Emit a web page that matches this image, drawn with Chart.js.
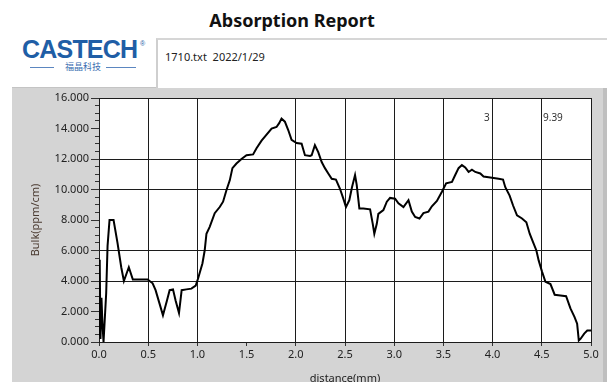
<!DOCTYPE html>
<html>
<head>
<meta charset="utf-8">
<title>Absorption Report</title>
<script src="https://cdn.jsdelivr.net/npm/chart.js@4/dist/chart.umd.min.js"></script>
<style>
  html, body { margin: 0; padding: 0; background: #fff; }
  #page { position: relative; width: 607px; height: 382px; overflow: hidden; background: #fff; font-family: "Noto Sans", sans-serif; }
  #panel { position: absolute; left: 12px; top: 87px; width: 591px; height: 295px; background: #d4d4d4; border-top: 1px solid #c4c4c4; }
  #edge { position: absolute; left: 603px; top: 87px; width: 4px; height: 296px; background: #bfbfbf; }
  #title { position: absolute; left: 0; width: 584px; top: 8px; text-align: center; font-weight: bold; font-size: 18px; line-height: 24px; color: #111; }
  #logo { position: absolute; left: 22px; top: 37px; font-family: "Liberation Sans", Arial, sans-serif; font-weight: bold; font-size: 25px; line-height: 25px; letter-spacing: -0.8px; color: #1f5ea6; }
  #reg { position: absolute; left: 140px; top: 40px; font-family: "Liberation Sans", sans-serif; font-size: 7px; color: #1f5ea6; }
  #sub { position: absolute; left: 30px; top: 60px; width: 106px; height: 14px; font-family: "Noto Sans CJK SC", sans-serif; font-size: 9px; line-height: 14px; color: #3a6db0; text-align: center; }
  #sub .ln { position: absolute; top: 7px; height: 1px; background: #5b86c0; }
  #box { position: absolute; left: 156px; top: 38px; width: 460px; height: 48px; background: #fff; border-left: 2px solid #cfcfcf; border-top: 2px solid #d6d6d6; }
  #file { position: absolute; left: 165px; top: 49px; font-size: 11px; line-height: 16px; color: #222; }
  #chart { position: absolute; left: 0; top: 0; }
  .mark { position: absolute; top: 110px; font-size: 10px; line-height: 14px; color: #333; }
</style>
</head>
<body>
<div id="page">
  <div id="panel"></div>
  <div id="edge"></div>
  <div id="title">Absorption Report</div>
  <div id="logo">CASTECH</div>
  <div id="reg">®</div>
  <div id="sub"><span class="ln" style="left:0;width:24px"></span>福晶科技<span class="ln" style="right:0;width:30px"></span></div>
  <div id="box"></div>
  <div id="file">1710.txt&nbsp; 2022/1/29</div>
  <canvas id="chart" width="607" height="382"></canvas>
  <div class="mark" style="left:484px">3</div>
  <div class="mark" style="left:543px">9.39</div>
</div>
<script>
// Bulk absorption profile along the crystal
const distance = [
  0.000, 0.005, 0.010, 0.015, 0.025, 0.035, 0.046, 0.073, 0.087, 0.107,
  0.148, 0.188, 0.226, 0.253, 0.303, 0.344, 0.494, 0.545, 0.575, 0.616,
  0.650, 0.690, 0.718, 0.752, 0.779, 0.813, 0.840, 0.888, 0.939, 0.983,
  1.006, 1.051, 1.074, 1.092, 1.125, 1.176, 1.227, 1.261, 1.295, 1.329,
  1.356, 1.397, 1.448, 1.499, 1.566, 1.601, 1.652, 1.703, 1.754, 1.804,
  1.831, 1.855, 1.889, 1.923, 1.957, 2.008, 2.059, 2.093, 2.144, 2.161,
  2.194, 2.228, 2.263, 2.296, 2.330, 2.365, 2.408, 2.449, 2.483, 2.510,
  2.544, 2.571, 2.602, 2.619, 2.646, 2.686, 2.755, 2.782, 2.798, 2.823,
  2.839, 2.890, 2.925, 2.958, 3.009, 3.043, 3.094, 3.145, 3.179, 3.213,
  3.257, 3.297, 3.348, 3.383, 3.434, 3.485, 3.528, 3.587, 3.620, 3.654,
  3.688, 3.722, 3.756, 3.790, 3.824, 3.875, 3.908, 3.959, 4.010, 4.061,
  4.106, 4.129, 4.173, 4.208, 4.248, 4.299, 4.343, 4.377, 4.411, 4.445,
  4.468, 4.503, 4.537, 4.588, 4.631, 4.689, 4.747, 4.791, 4.832, 4.859,
  4.876, 4.893, 4.931, 4.962, 5.000
];
const bulk = [
  5.4, 0.4, 5.2, 0.2, 2.9, 1.2, 0.0, 3.2, 6.3, 8.0,
  8.0, 6.5, 4.9, 4.0, 4.9, 4.1, 4.1, 3.85, 3.4, 2.5,
  1.75, 2.7, 3.4, 3.45, 2.7, 1.9, 3.4, 3.45, 3.5, 3.7,
  4.15, 5.15, 6.0, 7.1, 7.55, 8.45, 8.85, 9.2, 9.95, 10.6,
  11.4, 11.7, 12.0, 12.25, 12.3, 12.7, 13.2, 13.6, 14.0, 14.1,
  14.35, 14.65, 14.45, 13.9, 13.25, 13.05, 13.0, 12.25, 12.2, 12.25,
  12.9, 12.45, 11.8, 11.4, 11.05, 10.7, 10.65, 10.05, 9.4, 8.85,
  9.3, 10.15, 10.95, 10.3, 8.75, 8.75, 8.7, 7.75, 7.1, 7.75,
  8.4, 8.65, 9.2, 9.45, 9.4, 9.1, 8.85, 9.3, 8.55, 8.2,
  8.1, 8.45, 8.55, 8.9, 9.25, 9.85, 10.4, 10.5, 10.95, 11.4,
  11.6, 11.45, 11.15, 11.3, 11.15, 11.05, 10.85, 10.8, 10.75, 10.7,
  10.65, 10.15, 9.6, 8.95, 8.3, 8.1, 7.85, 7.1, 6.55, 6.0,
  5.35, 4.6, 3.95, 3.8, 3.1, 3.05, 3.0, 2.2, 1.65, 1.2,
  0.1, 0.2, 0.55, 0.75, 0.75
];

const points = distance.map((d, i) => ({ x: d, y: bulk[i] }));

// grid lines that are drawn across the plot
const xGridAt = [0.5, 1, 2, 2.5, 3, 3.5, 4, 4.5, 5];
const yGridAt = [4, 6, 10, 12, 16];
const near = (list, v) => list.some(g => Math.abs(g - v) < 1e-6);

const tickFont = { family: "'Noto Sans', sans-serif", size: 11 };

const plotBackground = {
  id: 'plotBackground',
  beforeDraw(chart) {
    const { ctx, chartArea: a } = chart;
    ctx.save();
    ctx.fillStyle = '#ffffff';
    ctx.fillRect(a.left, a.top, a.right - a.left, a.bottom - a.top);
    ctx.restore();
  }
};

new Chart(document.getElementById('chart'), {
  type: 'line',
  data: {
    datasets: [{
      data: points,
      borderColor: '#000',
      borderWidth: 2,
      pointRadius: 0,
      tension: 0,
      fill: false
    }]
  },
  options: {
    responsive: false,
    animation: false,
    devicePixelRatio: 1,
    layout: { padding: { left: 0, top: 98, right: 16, bottom: 0 } },
    plugins: { legend: { display: false }, tooltip: { enabled: false } },
    scales: {
      x: {
        type: 'linear',
        min: 0, max: 5,
        ticks: {
          stepSize: 0.5,
          color: '#222',
          font: tickFont,
          padding: 2,
          maxRotation: 0,
          autoSkip: false,
          callback: v => Number(v).toFixed(1)
        },
        grid: {
          color: c => near(xGridAt, c.tick.value) ? '#1c1c1c' : 'rgba(0,0,0,0)',
          tickColor: '#333',
          tickLength: 4,
          lineWidth: 1
        },
        border: { display: true, color: '#1c1c1c', width: 1 },
        title: {
          display: true,
          text: 'distance(mm)',
          color: '#222',
          font: { family: "'Noto Sans', sans-serif", size: 11, lineHeight: 0.6 },
          padding: { top: 0, bottom: 0 }
        },
        afterFit: s => { s.height = 40; }
      },
      y: {
        type: 'linear',
        min: 0, max: 16,
        weight: 1,
        ticks: {
          stepSize: 2,
          color: '#222',
          font: tickFont,
          padding: 2,
          autoSkip: false,
          callback: v => Number(v).toFixed(3)
        },
        grid: {
          color: c => near(yGridAt, c.tick.value) ? '#1c1c1c' : 'rgba(0,0,0,0)',
          tickColor: '#333',
          tickLength: 8,
          lineWidth: 1
        },
        border: { display: true, color: '#1c1c1c', width: 1 },
        title: {
          display: true,
          text: 'Bulk(ppm/cm)',
          color: '#4a3a30',
          font: { family: "'Noto Sans', sans-serif", size: 11, lineHeight: 1.2 },
          padding: { top: 29, bottom: 0 }
        },
        afterFit: s => { s.width = 99; }
      },
      yMinor: {
        type: 'linear',
        position: 'left',
        min: 0, max: 16,
        weight: 0,
        ticks: { stepSize: 0.5, display: false, autoSkip: false },
        grid: { drawOnChartArea: false, tickColor: '#333', tickLength: 4 },
        border: { display: false },
        afterFit: s => { s.width = 0; }
      }
    }
  },
  plugins: [plotBackground]
});
</script>
</body>
</html>
